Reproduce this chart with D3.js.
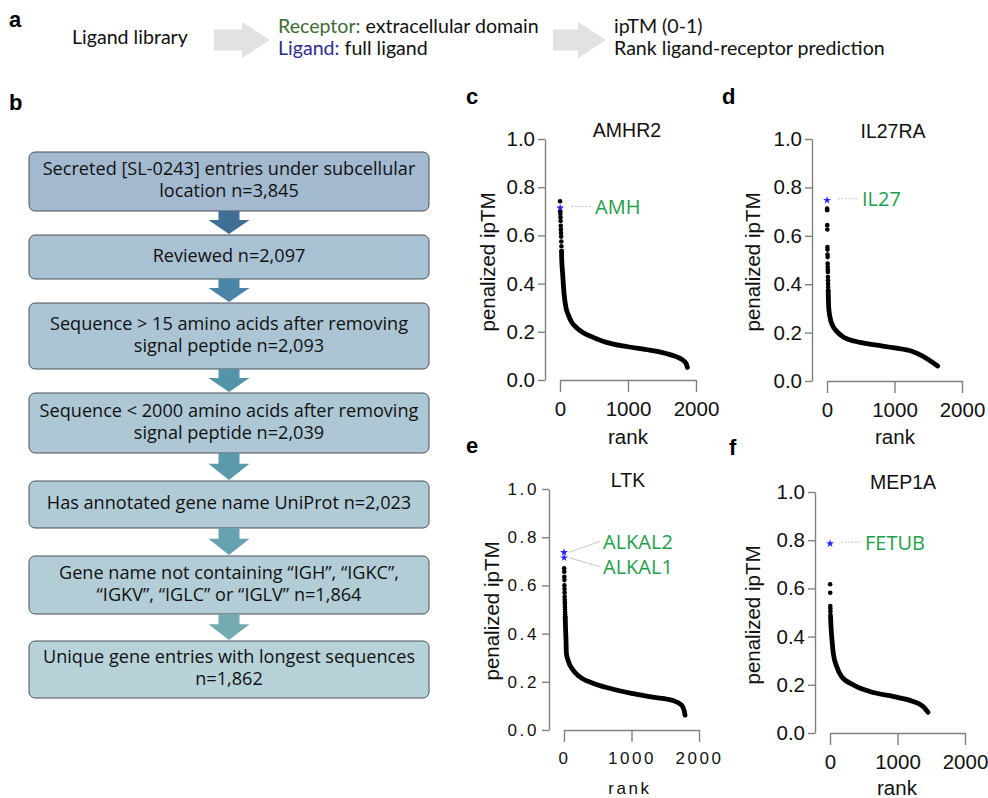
<!DOCTYPE html>
<html><head><meta charset="utf-8">
<script src="https://cdn.jsdelivr.net/npm/d3@7"></script>
<style>body{margin:0;background:#fff} svg{display:block}</style>
</head><body>
<script>
// ================= DATA =================
// panel a
const pipelineIn = "Ligand library";
const pipelineMid = [["Receptor:", " extracellular domain"], ["Ligand:", " full ligand"]];
const pipelineOut = ["ipTM (0-1)", "Rank ligand-receptor prediction"];

// panel b
const flowSteps = [
  ["Secreted [SL-0243] entries under subcellular", "location n=3,845"],
  ["Reviewed n=2,097"],
  ["Sequence > 15 amino acids after removing", "signal peptide n=2,093"],
  ["Sequence < 2000 amino acids after removing", "signal peptide n=2,039"],
  ["Has annotated gene name UniProt n=2,023"],
  ["Gene name not containing \u201CIGH\u201D, \u201CIGKC\u201D,", "\u201CIGKV\u201D, \u201CIGLC\u201D or \u201CIGLV\u201D n=1,864"],
  ["Unique gene entries with longest sequences", "n=1,862"]
];
const flowFill = ["#a3b9cf", "#a9c2d3", "#abc5d4", "#adc7d4", "#b0cad6", "#b3cdd7", "#b8d2d9"];
const flowArrowFill = ["#3f6f96", "#4a84a6", "#5494ab", "#5b9aab", "#66a1ae", "#74aab1"];

// panels c-f
const xTicks = [0, 1000, 2000];
const yTicks = [0, 0.2, 0.4, 0.6, 0.8, 1.0];
const receptors = ["AMHR2", "IL27RA", "LTK", "MEP1A"];

// AMHR2
const amhr2TopRank = [1, 3, 5, 7, 9, 11, 13, 15, 17, 19, 21, 23];
const amhr2TopVal  = [0.742, 0.700, 0.690, 0.675, 0.660, 0.640, 0.625, 0.610, 0.595, 0.575, 0.555, 0.535];
const amhr2Rank = [23, 24, 39, 59, 88, 122, 171, 244, 341, 488, 683, 1000, 1317, 1561, 1707, 1805, 1854, 1873];
const amhr2Val  = [0.535, 0.51, 0.44, 0.36, 0.30, 0.27, 0.24, 0.217, 0.196, 0.177, 0.156, 0.138, 0.124, 0.11, 0.097, 0.083, 0.069, 0.052];
const amhr2HitRank = [2];
const amhr2HitVal = [0.714];
const amhr2HitName = ["AMH"];

// IL27RA
const il27raTopRank = [2, 3, 4, 5, 6, 7, 8, 9, 10, 11, 12, 13, 14, 15, 16, 17, 18];
const il27raTopVal  = [0.713, 0.706, 0.644, 0.626, 0.554, 0.543, 0.523, 0.512, 0.485, 0.471, 0.460, 0.450, 0.430, 0.416, 0.402, 0.388, 0.374];
const il27raRank = [18, 19, 25, 44, 84, 148, 246, 419, 714, 1000, 1256, 1404, 1527, 1640];
const il27raVal  = [0.374, 0.36, 0.305, 0.264, 0.229, 0.204, 0.181, 0.164, 0.149, 0.137, 0.123, 0.105, 0.084, 0.062];
const il27raHitRank = [1];
const il27raHitVal = [0.747];
const il27raHitName = ["IL27"];

// LTK
const ltkTopRank = [3, 4, 5, 6, 7, 8, 9, 10, 11, 12, 13, 14, 15, 16, 17, 18];
const ltkTopVal  = [0.671, 0.657, 0.636, 0.622, 0.600, 0.585, 0.570, 0.553, 0.540, 0.530, 0.520, 0.510, 0.500, 0.490, 0.480, 0.470];
const ltkRank = [18, 22, 30, 35, 59, 133, 232, 430, 677, 1000, 1318, 1615, 1738, 1778, 1793];
const ltkVal  = [0.47, 0.43, 0.37, 0.318, 0.29, 0.249, 0.221, 0.194, 0.173, 0.152, 0.136, 0.122, 0.104, 0.083, 0.062];
const ltkHitRank = [1, 2];
const ltkHitVal = [0.737, 0.715];
const ltkHitName = ["ALKAL2", "ALKAL1"];

// MEP1A
const mep1aTopRank = [2, 3, 4, 5, 6, 7];
const mep1aTopVal  = [0.617, 0.582, 0.527, 0.517, 0.505, 0.490];
const mep1aRank = [8, 15, 25, 49, 99, 172, 345, 591, 1000, 1232, 1379, 1453];
const mep1aVal  = [0.483, 0.441, 0.40, 0.331, 0.276, 0.234, 0.2, 0.172, 0.148, 0.131, 0.11, 0.086];
const mep1aHitRank = [1];
const mep1aHitVal = [0.786];
const mep1aHitName = ["FETUB"];

// ================= DRAW =================
const W = 988, H = 798;
const svg = d3.select("body").append("svg").attr("width", W).attr("height", H)
  .style("font-family", "'Liberation Sans', Arial, sans-serif");

function panelLabel(t, x, y) {
  svg.append("text").attr("x", x).attr("y", y).text(t)
    .attr("font-size", 22).attr("font-weight", "bold").attr("fill", "#000");
}

// ---- panel a ----
panelLabel("a", 9, 27);
const aFont = "Lato, 'Open Sans', sans-serif";
const aSize = 19.6;
svg.append("text").attr("x", 72).attr("y", 44).text(pipelineIn)
  .attr("font-family", aFont).attr("font-size", aSize).attr("fill", "#111");
function grayArrow(x0, x2) {
  const cy = 40, sh = 10.5, hh = 18, x1 = x2 - 28;
  const pts = [[x0, cy - sh], [x1, cy - sh], [x1, cy - hh], [x2, cy], [x1, cy + hh], [x1, cy + sh], [x0, cy + sh]];
  svg.append("path").attr("d", d3.line()(pts) + "Z").attr("fill", "#e2e2e2");
}
grayArrow(214, 270);
grayArrow(553, 606);
const midColors = ["#3e6b35", "#2c2c8f"];
pipelineMid.forEach((p, i) => {
  const t = svg.append("text").attr("x", 278).attr("y", 33 + i * 22)
    .attr("font-family", aFont).attr("font-size", aSize).attr("fill", "#111");
  t.append("tspan").attr("fill", midColors[i]).text(p[0]);
  t.append("tspan").text(p[1]);
});
pipelineOut.forEach((p, i) => {
  svg.append("text").attr("x", 614).attr("y", 33 + i * 22).text(p)
    .attr("font-family", aFont).attr("font-size", aSize).attr("fill", "#111");
});

// ---- panel b ----
panelLabel("b", 9, 110);
const boxX0 = 29, boxX1 = 429, boxCx = (boxX0 + boxX1) / 2;
const boxTop = [152, 235, 303, 393, 481, 556, 641];
const boxBot = [211, 279, 369, 453, 528, 614, 698];
const bFont = "'Open Sans', 'Noto Sans', sans-serif";
// fit font size to reference width of first line
const probe = svg.append("text").attr("font-family", bFont).attr("font-size", 16).text(flowSteps[0][0]);
const pw = probe.node().getComputedTextLength();
probe.remove();
const bSize = 16 * 373 / pw;
flowSteps.forEach((lines, i) => {
  svg.append("rect").attr("x", boxX0).attr("y", boxTop[i])
    .attr("width", boxX1 - boxX0).attr("height", boxBot[i] - boxTop[i])
    .attr("rx", 6).attr("ry", 6)
    .attr("fill", flowFill[i]).attr("stroke", "#4a4f55").attr("stroke-width", 1);
  const mid = (boxTop[i] + boxBot[i]) / 2 - 1.5;
  const lh = 21.7;
  lines.forEach((ln, j) => {
    const cy = mid + (j - (lines.length - 1) / 2) * lh;
    svg.append("text").attr("x", boxCx).attr("y", cy).attr("dy", "0.35em")
      .attr("text-anchor", "middle").attr("font-family", bFont)
      .attr("font-size", bSize).attr("fill", "#111").text(ln);
  });
});
flowArrowFill.forEach((c, i) => {
  const b = boxBot[i], t = boxTop[i + 1];
  const sEnd = b + (t - b) * 0.38;
  const cx = 229, sw = 10.5, hw = 20.5;
  const pts = [[cx - sw, b], [cx + sw, b], [cx + sw, sEnd], [cx + hw, sEnd], [cx, t - 1], [cx - hw, sEnd], [cx - sw, sEnd]];
  svg.append("path").attr("d", d3.line()(pts) + "Z").attr("fill", c);
});

// ---- panels c-f ----
const panels = [
  { lab: "c", lx: 466, ly: 104, name: receptors[0], ax: 545, x0: 560, x1: 696, y0: 380, y1: 139,
    titleX: 627, titleY: 130, ylabX: 488, ylabY: 262, xlabY: 437, xlabX: 628, spaced: false,
    topR: amhr2TopRank, topV: amhr2TopVal, r: amhr2Rank, v: amhr2Val,
    hitR: amhr2HitRank, hitV: amhr2HitVal, hitN: amhr2HitName },
  { lab: "d", lx: 722, ly: 104, name: receptors[1], ax: 812, x0: 827, x1: 962, y0: 381, y1: 139,
    titleX: 893, titleY: 131, ylabX: 753, ylabY: 262, xlabY: 437, xlabX: 895, spaced: false,
    topR: il27raTopRank, topV: il27raTopVal, r: il27raRank, v: il27raVal,
    hitR: il27raHitRank, hitV: il27raHitVal, hitN: il27raHitName },
  { lab: "e", lx: 466, ly: 453, name: receptors[2], ax: 549, x0: 564, x1: 699, y0: 730, y1: 489,
    titleX: 628, titleY: 480, ylabX: 492, ylabY: 611, xlabY: 788, xlabX: 630, spaced: true,
    topR: ltkTopRank, topV: ltkTopVal, r: ltkRank, v: ltkVal,
    hitR: ltkHitRank, hitV: ltkHitVal, hitN: ltkHitName },
  { lab: "f", lx: 729, ly: 455, name: receptors[3], ax: 815, x0: 830, x1: 965, y0: 733, y1: 492,
    titleX: 903, titleY: 482, ylabX: 753, ylabY: 615, xlabY: 788, xlabX: 897, spaced: false,
    topR: mep1aTopRank, topV: mep1aTopVal, r: mep1aRank, v: mep1aVal,
    hitR: mep1aHitRank, hitV: mep1aHitVal, hitN: mep1aHitName }
];
const green = "#1f9e4b";
const annFont = "'Open Sans', sans-serif";

panels.forEach(p => {
  panelLabel(p.lab, p.lx, p.ly);
  const x = d3.scaleLinear().domain([0, 2000]).range([p.x0, p.x1]);
  const y = d3.scaleLinear().domain([0, 1]).range([p.y0, p.y1]);
  const tickFs = p.spaced ? 17 : 20.5;
  const ls = p.spaced ? "2.6px" : "0px";

  const ya = svg.append("g").attr("transform", `translate(${p.ax},0)`)
    .call(d3.axisLeft(y).tickValues(yTicks).tickFormat(d3.format(".1f")).tickSize(7).tickSizeOuter(0).tickPadding(3));
  const xa = svg.append("g").attr("transform", `translate(0,${p.y0})`)
    .call(d3.axisBottom(x).tickValues(xTicks).tickFormat(d3.format("d")).tickSize(12).tickSizeOuter(0).tickPadding(p.spaced ? 10 : 9));
  [ya, xa].forEach(g => {
    g.select(".domain").attr("stroke", "#808080").attr("stroke-width", 1.4);
    g.selectAll(".tick line").attr("stroke", "#808080").attr("stroke-width", 1.4);
    g.selectAll(".tick text").attr("font-size", tickFs).attr("fill", "#111")
      .attr("font-family", "'Liberation Sans', Arial, sans-serif").style("letter-spacing", ls);
  });

  svg.append("text").attr("x", p.titleX).attr("y", p.titleY).attr("dy", "0.35em")
    .attr("text-anchor", "middle").attr("font-size", 19.5).attr("fill", "#111").text(p.name);
  svg.append("text").attr("transform", `translate(${p.ylabX},${p.ylabY}) rotate(-90)`)
    .attr("dy", "0.35em").attr("text-anchor", "middle").attr("font-size", 20.5).attr("fill", "#111")
    .text("penalized ipTM");
  svg.append("text").attr("x", p.xlabX).attr("y", p.xlabY).attr("dy", "0.35em")
    .attr("text-anchor", "middle").attr("font-size", p.spaced ? 17 : 20.5).attr("fill", "#111")
    .style("letter-spacing", ls).text("rank");

  // main curve
  const pts = p.r.map((d, i) => [d, p.v[i]]);
  svg.append("path").datum(pts)
    .attr("d", d3.line().x(d => x(d[0])).y(d => y(d[1])).curve(d3.curveMonotoneX))
    .attr("fill", "none").attr("stroke", "#000").attr("stroke-width", 4.8)
    .attr("stroke-linecap", "round").attr("stroke-linejoin", "round");
  // discrete top dots
  svg.append("g").selectAll("circle").data(p.topR.map((d, i) => [d, p.topV[i]])).join("circle")
    .attr("cx", d => x(d[0])).attr("cy", d => y(d[1])).attr("r", 2.3).attr("fill", "#000");

  // hits
  p.hitR.forEach((hr, i) => {
    const sx = x(hr), sy = y(p.hitV[i]);
    svg.append("path").attr("d", d3.symbol(d3.symbolStar).size(20)())
      .attr("transform", `translate(${sx},${sy})`).attr("fill", "#2424ff");
    let lx, ly;
    if (p.hitN.length > 1) {
      lx = p.x0 + 39; ly = sy + (i === 0 ? -11 : 9);
      svg.append("line").attr("x1", sx + 5).attr("y1", sy).attr("x2", lx - 3).attr("y2", ly)
        .attr("stroke", "#c8c8c8").attr("stroke-width", 1);
    } else {
      lx = p.x0 + 35; ly = sy - 1;
      svg.append("line").attr("x1", p.x0 + 11).attr("y1", sy - 1.5).attr("x2", p.x0 + 32).attr("y2", sy - 1.5)
        .attr("stroke", "#c0c0c0").attr("stroke-width", 1).attr("stroke-dasharray", "2,1.5");
    }
    svg.append("text").attr("x", lx).attr("y", ly).attr("dy", "0.36em")
      .attr("font-family", annFont).attr("font-size", 20).attr("fill", green).text(p.hitN[i]);
  });
});
</script>
</body></html>
